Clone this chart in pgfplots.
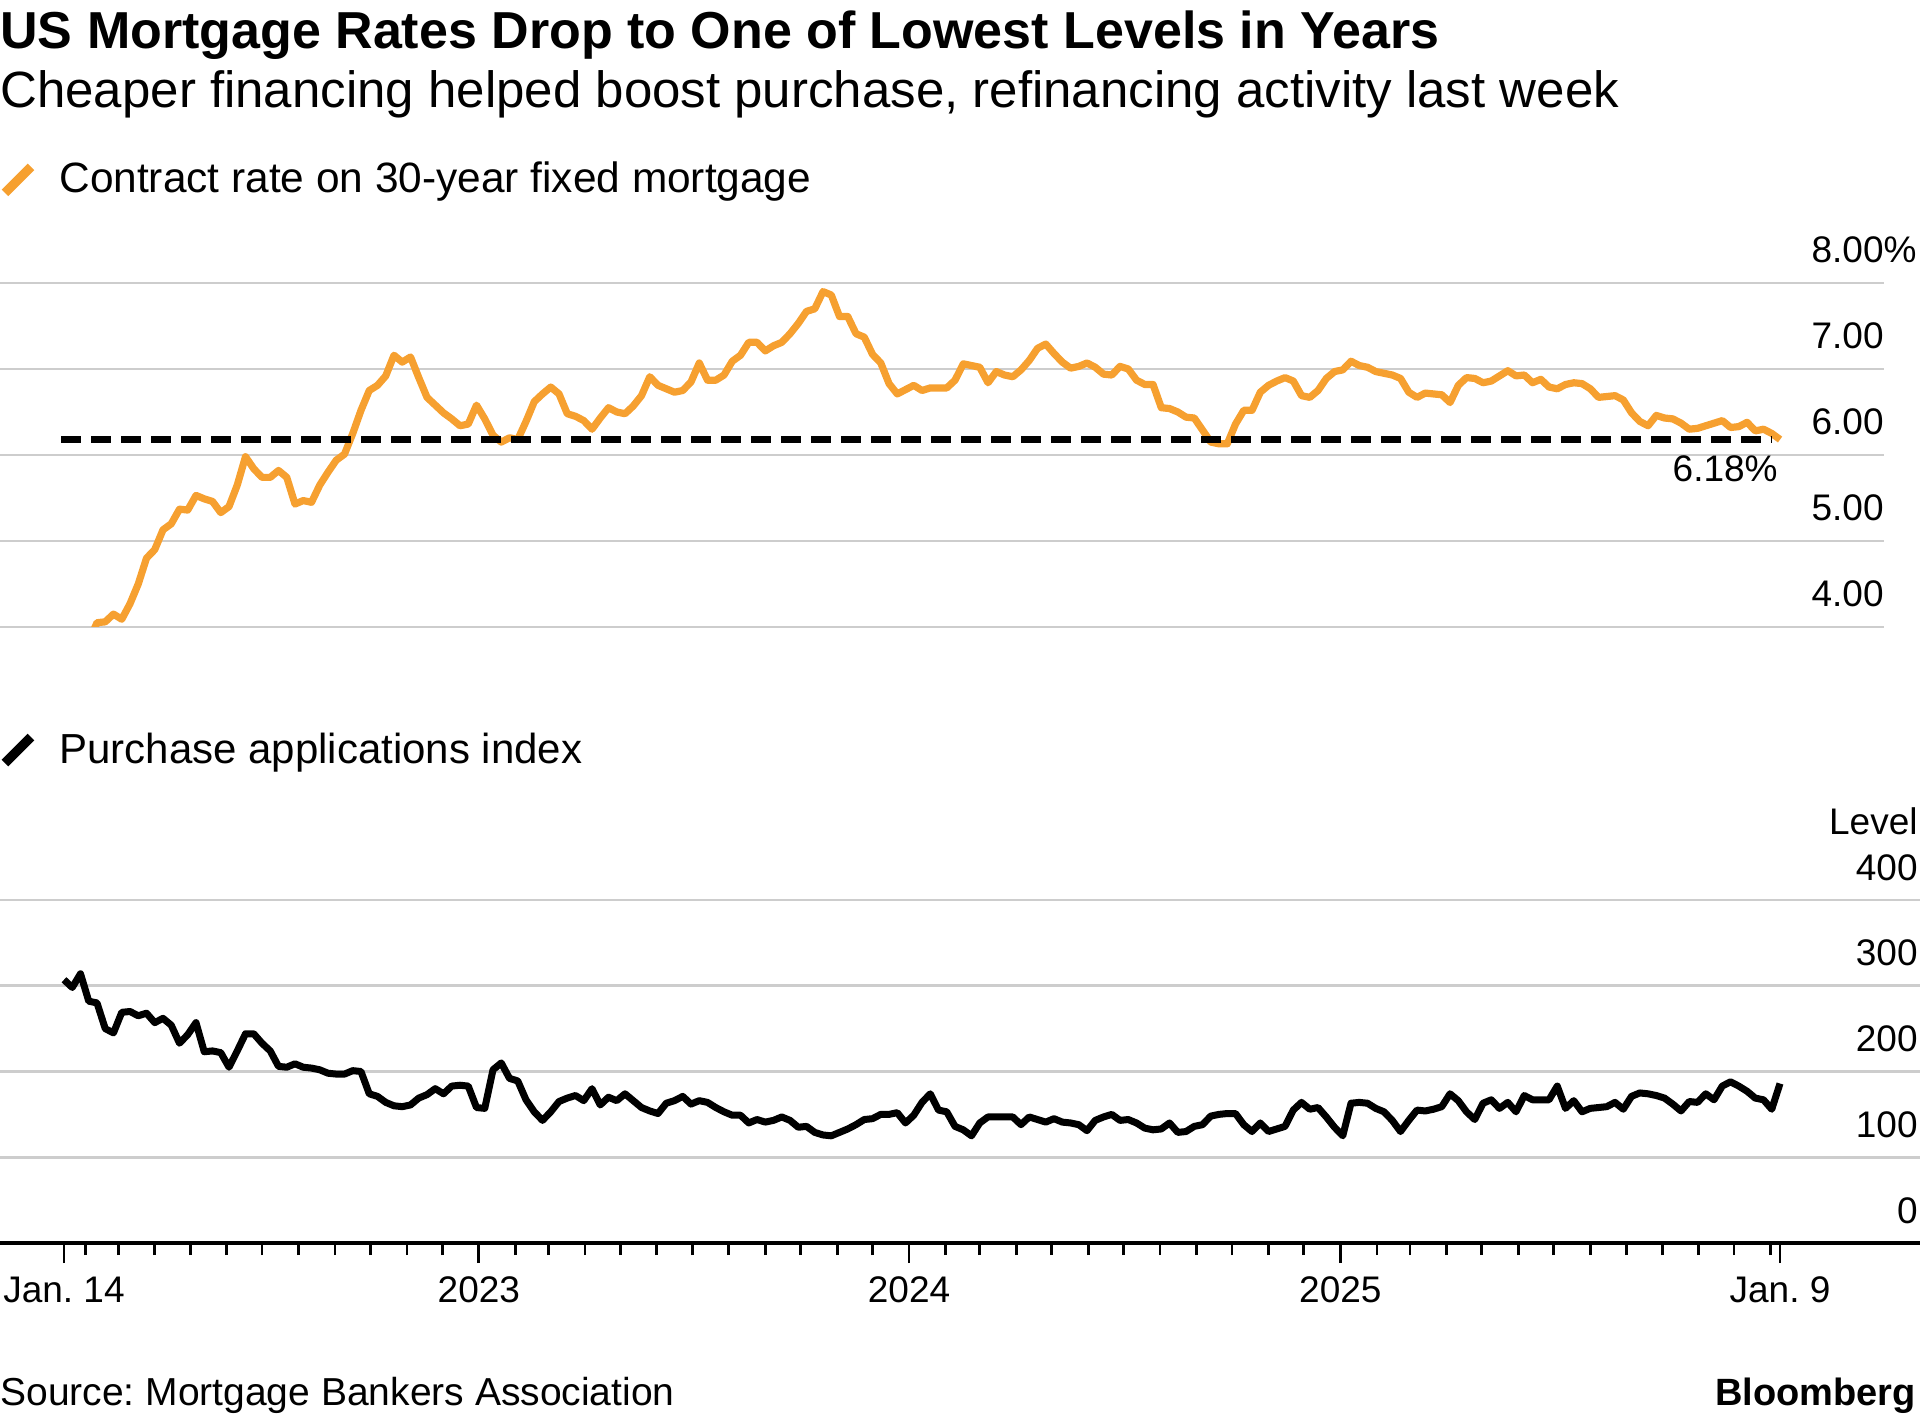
\documentclass[border=0pt]{standalone}
\usepackage{fontspec}
\setmainfont{Liberation Sans}
\usepackage{pgfplots}
\usepackage{pgfplotstable}
\pgfplotsset{compat=1.18}
\frenchspacing

\definecolor{bborange}{RGB}{246,160,48}
\definecolor{gridgray}{RGB}{205,205,205}

% days since Jan 14, 2022 ; 30-year fixed contract rate (%)
\pgfplotstableread{
day rate
0 3.52
7 3.72
14 3.80
21 3.83
28 4.05
35 4.06
42 4.15
49 4.09
56 4.27
63 4.50
70 4.80
77 4.90
84 5.13
91 5.20
98 5.37
105 5.36
112 5.53
119 5.49
126 5.46
133 5.33
140 5.40
147 5.65
154 5.98
161 5.84
168 5.74
175 5.74
182 5.82
189 5.74
196 5.43
203 5.47
210 5.45
217 5.65
224 5.80
231 5.94
238 6.01
245 6.25
252 6.52
259 6.75
266 6.81
273 6.92
280 7.16
287 7.08
294 7.14
301 6.90
308 6.67
315 6.58
322 6.49
329 6.42
336 6.34
343 6.36
350 6.58
357 6.42
364 6.23
371 6.15
378 6.20
385 6.18
392 6.39
399 6.62
406 6.71
413 6.79
420 6.71
427 6.48
434 6.45
441 6.40
448 6.30
455 6.43
462 6.55
469 6.50
476 6.48
483 6.57
490 6.69
497 6.91
504 6.81
511 6.77
518 6.73
525 6.75
532 6.85
539 7.07
546 6.87
553 6.87
560 6.93
567 7.09
574 7.16
581 7.31
588 7.31
595 7.21
602 7.27
609 7.31
616 7.41
623 7.53
630 7.67
637 7.70
644 7.90
651 7.86
658 7.61
665 7.61
672 7.41
679 7.37
686 7.17
693 7.07
700 6.83
707 6.71
714 6.76
721 6.81
728 6.75
735 6.78
742 6.78
749 6.78
756 6.87
763 7.06
770 7.04
777 7.02
784 6.84
791 6.97
798 6.93
805 6.91
812 6.99
819 7.10
826 7.24
833 7.29
840 7.18
847 7.08
854 7.01
861 7.03
868 7.07
875 7.02
882 6.94
889 6.93
896 7.03
903 7.00
910 6.87
917 6.82
924 6.82
931 6.55
938 6.54
945 6.50
952 6.44
959 6.43
966 6.29
973 6.15
980 6.13
987 6.13
994 6.36
1001 6.52
1008 6.52
1015 6.73
1022 6.81
1029 6.86
1036 6.90
1043 6.86
1050 6.69
1057 6.67
1064 6.75
1071 6.89
1078 6.97
1085 6.99
1092 7.09
1099 7.04
1106 7.02
1113 6.97
1120 6.95
1127 6.93
1134 6.89
1141 6.73
1148 6.67
1155 6.72
1162 6.71
1169 6.70
1176 6.61
1183 6.81
1190 6.90
1197 6.89
1204 6.84
1211 6.86
1218 6.92
1225 6.98
1232 6.92
1239 6.93
1246 6.84
1253 6.88
1260 6.79
1267 6.77
1274 6.82
1281 6.84
1288 6.83
1295 6.77
1302 6.67
1309 6.68
1316 6.69
1323 6.64
1330 6.49
1337 6.39
1344 6.34
1351 6.46
1358 6.43
1365 6.42
1372 6.37
1379 6.30
1386 6.31
1393 6.34
1400 6.37
1407 6.40
1414 6.32
1421 6.33
1428 6.38
1435 6.28
1442 6.30
1449 6.25
1456 6.18
}\ratetable

% days since Jan 14, 2022 ; purchase applications index
\pgfplotstableread{
day idx
0 307
7 298
14 314
21 282
28 280
35 250
42 245
49 269
56 270
63 265
70 268
77 257
84 262
91 254
98 233
105 243
112 257
119 223
126 224
133 222
140 205
147 224
154 244
161 244
168 233
175 224
182 206
189 205
196 209
203 205
210 204
217 202
224 198
231 197
238 197
245 201
252 200
259 174
266 171
273 164
280 160
287 159
294 161
301 169
308 173
315 180
322 174
329 183
336 184
343 183
350 158
357 157
364 202
371 210
378 192
385 189
392 167
399 153
406 143
413 153
420 165
427 169
434 172
441 166
448 180
455 161
462 170
469 166
476 174
483 166
490 158
497 154
504 151
511 163
518 166
525 171
532 162
539 166
546 164
553 158
560 153
567 149
574 149
581 140
588 144
595 141
602 143
609 147
616 143
623 135
630 136
637 129
644 126
651 125
658 129
665 133
672 138
679 144
686 145
693 150
700 150
707 152
714 140
721 149
728 164
735 174
742 155
749 153
756 136
763 132
770 125
777 140
784 147
791 147
798 147
805 147
812 138
819 147
826 144
833 141
840 145
847 141
854 140
861 138
868 131
875 143
882 147
889 150
896 143
903 144
910 140
917 134
924 132
931 133
938 140
945 129
952 130
959 136
966 138
973 148
980 150
987 151
994 151
1001 138
1008 130
1015 140
1022 130
1029 133
1036 136
1043 155
1050 164
1057 156
1064 158
1071 147
1078 135
1085 125
1092 163
1099 164
1106 163
1113 157
1120 153
1127 143
1134 130
1141 143
1148 155
1155 154
1162 156
1169 159
1176 174
1183 166
1190 153
1197 144
1204 163
1211 167
1218 157
1225 164
1232 153
1239 172
1246 167
1253 167
1260 167
1267 183
1274 157
1281 166
1288 153
1295 157
1302 158
1309 159
1316 164
1323 156
1330 171
1337 175
1344 174
1351 172
1358 169
1365 162
1372 154
1379 165
1386 164
1393 174
1400 167
1407 183
1414 188
1421 183
1428 177
1435 169
1442 167
1449 156
1456 186
}\purchtable

\begin{document}
\begin{tikzpicture}
\useasboundingbox (0,0) rectangle (960pt,-708pt);

\node[anchor=base west, inner sep=0pt, font=\bfseries\fontsize{26}{30}\selectfont]
  at (0pt,-24.5pt) {US Mortgage Rates Drop to One of Lowest Levels in Years};
\node[anchor=base west, inner sep=0pt, font=\fontsize{25.5}{30}\selectfont]
  at (0pt,-54pt) {Cheaper financing helped boost purchase, refinancing activity last week};

% legend, top panel
\draw[bborange, line width=4.6pt] (2.5pt,-96.5pt) -- (15.5pt,-83.5pt);
\node[anchor=base west, inner sep=0pt, font=\fontsize{21.2}{25}\selectfont]
  at (29.5pt,-96.5pt) {Contract rate on 30-year fixed mortgage};

\begin{axis}[
  at={(0pt,-313.5pt)}, anchor=south west,
  width=942pt, height=172pt, scale only axis,
  xmin=-54.3, xmax=1544.2, ymin=4, ymax=8,
  axis x line*=bottom, axis y line*=right,
  x axis line style={draw=none}, y axis line style={draw=none},
  xtick=\empty,
  ytick={4,5,6,7,8},
  yticklabels={4.00,5.00,6.00,7.00,8.00\rlap{\%}},
  major tick length=0pt, ytick style={draw=none},
  ymajorgrids, grid style={gridgray, line width=1.3pt},
  yticklabel style={anchor=base east, inner sep=0pt, yshift=10pt,
    font=\fontsize{18.5}{22}\selectfont},
]
\addplot[bborange, line width=3.6pt, line join=round] table[x=day, y=rate] {\ratetable};
\addplot[black, line width=3.1pt, dash pattern=on 10pt off 5pt] coordinates {(-2.5,6.18) (1449,6.18)};
\end{axis}

\node[anchor=base east, inner sep=0pt, font=\fontsize{18.5}{22}\selectfont]
  at (889pt,-241pt) {6.18\%};

% legend, bottom panel
\draw[black, line width=4.6pt] (2.5pt,-381.5pt) -- (15.5pt,-368.5pt);
\node[anchor=base west, inner sep=0pt, font=\fontsize{21}{25}\selectfont]
  at (29.5pt,-381.5pt) {Purchase applications index};
\node[anchor=base east, inner sep=0pt, font=\fontsize{18.5}{22}\selectfont]
  at (959pt,-417pt) {Level};

\begin{axis}[
  at={(0pt,-621.5pt)}, anchor=south west,
  width=960pt, height=171.5pt, scale only axis,
  xmin=-54.3, xmax=1574.8, ymin=0, ymax=400,
  axis x line*=bottom, axis y line*=right,
  x axis line style={black, line width=1.6pt},
  y axis line style={draw=none},
  ytick={0,100,200,300,400},
  yticklabels={0,100,200,300,400},
  ytick style={draw=none},
  ymajorgrids, grid style={gridgray, line width=1.3pt},
  xtick={0,352,717,1083,1456},
  xticklabels={Jan. 14,2023,2024,2025,Jan. 9},
  minor xtick={18,46,77,107,138,168,199,230,260,291,321,383,411,442,472,503,533,564,595,625,656,686,748,777,808,838,869,899,930,961,991,1022,1052,1114,1142,1173,1203,1234,1264,1295,1326,1356,1387,1417,1448},
  tick align=outside, major tick length=10pt, minor tick length=6pt,
  xtick style={black, line width=1.4pt},
  yticklabel style={anchor=base east, inner sep=0pt, yshift=10pt, xshift=-11pt,
    font=\fontsize{18.5}{22}\selectfont},
  xticklabel style={anchor=base, inner sep=0pt, yshift=-19.5pt,
    font=\fontsize{18.5}{22}\selectfont},
]
\addplot[black, line width=3.5pt, line join=round] table[x=day, y=idx] {\purchtable};
\end{axis}

\node[anchor=base west, inner sep=0pt, font=\fontsize{19.5}{23}\selectfont]
  at (0pt,-702.5pt) {Source: Mortgage Bankers Association};
\node[anchor=base east, inner sep=0pt, font=\bfseries\fontsize{19}{23}\selectfont]
  at (958pt,-702.5pt) {Bloomberg};
\end{tikzpicture}
\end{document}
